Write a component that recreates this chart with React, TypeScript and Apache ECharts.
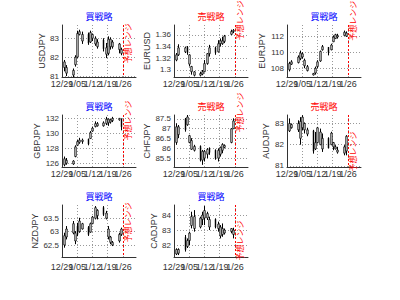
import React, { useEffect, useRef } from "react";
import * as echarts from "echarts";

// ---- data ----
const tradeDates = [
  "2010-12-30", "2010-12-31",
  "2011-01-03", "2011-01-04", "2011-01-05", "2011-01-06", "2011-01-07",
  "2011-01-10", "2011-01-11", "2011-01-12", "2011-01-13", "2011-01-14",
  "2011-01-17", "2011-01-18", "2011-01-19", "2011-01-20", "2011-01-21",
  "2011-01-24", "2011-01-25",
];
const tickDates = ["2010-12-29", "2011-01-05", "2011-01-12", "2011-01-19", "2011-01-26"];
const tickLabels = ["12/29", "1/05", "1/12", "1/19", "1/26"];
const forecastDate = "2011-01-26";
const axisStartDate = "2010-12-29";
const axisEndDate = "2011-02-01";

const pairNames = ["USDJPY", "EURUSD", "EURJPY", "GBPJPY", "CHFJPY", "AUDJPY", "NZDJPY", "CADJPY"];
const strategies = ["買戦略", "売戦略", "買戦略", "買戦略", "売戦略", "売戦略", "買戦略", "買戦略"];
const forecastText = "予想レンジ";

// [open, close, low, high]
const usdjpy = [
  [81.45, 81.75, 81.25, 81.85], [81.15, 81.45, 81.0, 81.58],
  [81.05, 81.3, 80.95, 81.4], [81.6, 82.0, 81.5, 82.1], [82.0, 83.25, 81.95, 83.4], [83.2, 83.35, 83.15, 83.45], [82.85, 83.2, 82.7, 83.35],
  [83.2, 82.75, 82.65, 83.3], [82.8, 83.3, 82.75, 83.4], [83.0, 83.2, 82.85, 83.25], [82.7, 83.0, 82.6, 83.1], [82.55, 82.8, 82.45, 82.95],
  [82.9, 82.45, 82.3, 83.0], [82.15, 82.5, 81.95, 82.75], [82.2, 82.95, 82.1, 83.1], [82.55, 82.95, 82.4, 83.05], [82.55, 82.8, 82.45, 82.9],
  [82.4, 82.7, 82.2, 82.75], [82.2, 82.4, 82.1, 82.5],
];
const eurusd = [
  [1.317, 1.326, 1.315, 1.329], [1.326, 1.338, 1.324, 1.344],
  [1.331, 1.338, 1.329, 1.34], [1.339, 1.33, 1.326, 1.341], [1.31, 1.326, 1.306, 1.327], [1.297, 1.306, 1.292, 1.307], [1.291, 1.297, 1.289, 1.298],
  [1.291, 1.294, 1.289, 1.297], [1.293, 1.297, 1.291, 1.3], [1.297, 1.311, 1.296, 1.317], [1.311, 1.328, 1.309, 1.329], [1.328, 1.338, 1.323, 1.343],
  [1.338, 1.33, 1.326, 1.34], [1.331, 1.345, 1.33, 1.351], [1.345, 1.35, 1.34, 1.354], [1.345, 1.35, 1.343, 1.357], [1.349, 1.358, 1.346, 1.36],
  [1.361, 1.366, 1.36, 1.369], [1.366, 1.368, 1.363, 1.37],
];
const eurjpy = [
  [107.8, 108.6, 107.6, 108.8], [108.5, 108.8, 108.4, 109.0],
  [108.7, 109.4, 108.6, 109.6], [109.2, 109.9, 109.0, 110.2], [109.4, 109.8, 109.2, 110.0], [108.3, 109.0, 108.0, 109.2], [107.7, 108.2, 107.6, 108.4],
  [107.15, 107.35, 107.1, 107.4], [107.4, 108.0, 107.2, 108.2], [108.2, 108.8, 108.0, 109.0], [108.9, 110.1, 108.8, 110.2], [110.3, 110.7, 110.2, 110.9],
  [110.6, 110.0, 109.6, 110.65], [110.3, 110.9, 110.24, 111.06], [111.3, 111.9, 111.27, 112.1], [111.7, 112.2, 111.67, 112.3], [111.9, 112.1, 111.7, 112.3],
  [112.1, 112.5, 112.08, 112.7], [112.0, 112.4, 111.9, 112.6],
];
const gbpjpy = [
  [125.8, 126.6, 125.6, 126.9], [126.0, 126.4, 125.8, 126.7],
  [125.9, 126.3, 125.8, 126.4], [126.9, 128.2, 126.8, 128.4], [128.4, 128.9, 128.3, 129.1], [128.8, 129.1, 128.6, 129.4], [128.9, 129.1, 128.6, 129.3],
  [129.2, 128.6, 128.4, 129.3], [129.3, 130.1, 129.3, 130.3], [130.3, 130.7, 130.2, 130.9], [130.9, 131.3, 130.8, 131.6], [131.0, 131.3, 130.9, 131.5],
  [131.0, 131.4, 130.9, 131.6], [131.3, 131.9, 131.1, 132.2], [131.4, 131.9, 131.0, 132.0], [131.5, 131.8, 131.3, 131.9], [131.7, 132.0, 131.5, 132.2],
  [131.8, 132.0, 131.7, 132.0], [131.9, 130.9, 130.4, 132.0],
];
const chfjpy = [
  [86.3, 87.1, 86.18, 87.28], [86.7, 87.1, 86.52, 87.19],
  [87.5, 86.95, 86.85, 87.55], [87.2, 87.6, 87.15, 87.7], [86.3, 86.65, 86.26, 86.69], [85.95, 86.4, 85.92, 86.52], [85.9, 86.1, 85.84, 86.18],
  [86.1, 85.4, 85.33, 86.15], [85.4, 85.85, 85.16, 85.92], [85.5, 85.85, 85.33, 85.92], [85.7, 85.95, 85.5, 86.01], [86.0, 85.8, 85.67, 86.05],
  [85.9, 85.5, 85.42, 85.95], [85.5, 85.9, 85.33, 86.0], [85.7, 86.05, 85.58, 86.09], [85.9, 86.2, 85.75, 86.26], [86.05, 86.15, 86.0, 86.2],
  [86.3, 87.0, 86.26, 87.03], [87.0, 87.4, 87.0, 87.53],
];
const audjpy = [
  [82.65, 83.0, 82.6, 83.24], [82.8, 82.95, 82.76, 83.0],
  [82.7, 83.0, 82.6, 83.15], [82.3, 83.1, 82.0, 83.3], [82.8, 83.3, 82.69, 83.39], [82.7, 83.0, 82.53, 83.05], [82.5, 82.7, 82.4, 82.8],
  [82.65, 81.7, 81.58, 82.7], [81.8, 82.1, 81.75, 82.6], [82.1, 82.8, 82.06, 82.84], [82.0, 82.6, 81.98, 82.76], [81.8, 82.3, 81.66, 82.53],
  [82.3, 81.85, 81.82, 82.35], [82.0, 82.55, 81.98, 82.61], [81.9, 82.1, 81.74, 82.13], [81.8, 81.9, 81.78, 81.98], [81.65, 81.75, 81.58, 81.9],
  [81.6, 81.9, 81.5, 81.98], [81.7, 82.4, 81.5, 82.45],
];
const nzdjpy = [
  [62.5, 62.85, 62.4, 62.96], [62.8, 63.1, 62.71, 63.21],
  [62.95, 63.3, 62.9, 63.4], [62.65, 62.95, 62.53, 63.02], [63.2, 62.9, 62.83, 63.33], [63.0, 63.4, 62.96, 63.52], [63.1, 63.3, 63.08, 63.33],
  [63.15, 62.9, 62.84, 63.21], [62.98, 63.3, 62.96, 63.34], [63.3, 63.55, 63.28, 63.59], [63.5, 63.9, 63.46, 63.96], [63.6, 63.8, 63.46, 63.84],
  [63.9, 63.65, 63.59, 63.96], [63.5, 63.7, 63.46, 63.78], [62.8, 63.1, 62.71, 63.21], [62.6, 62.8, 62.53, 62.84], [62.5, 62.6, 62.46, 62.65],
  [62.65, 62.9, 62.59, 62.96], [62.9, 63.1, 62.84, 63.15],
];
const cadjpy = [
  [81.4, 81.7, 81.33, 81.78], [81.45, 81.7, 81.33, 81.78],
  [82.5, 81.7, 81.56, 82.67], [81.9, 82.3, 81.8, 82.44], [82.3, 82.8, 82.0, 82.89], [83.3, 83.9, 83.11, 84.22], [83.1, 83.9, 82.89, 84.33],
  [83.2, 83.8, 83.11, 83.89], [83.7, 84.0, 83.33, 84.22], [83.8, 84.3, 83.33, 84.6], [83.8, 84.1, 83.67, 84.22], [83.2, 83.7, 83.0, 83.89],
  [83.7, 83.2, 83.11, 83.78], [83.1, 83.4, 82.89, 83.56], [82.6, 83.2, 82.44, 83.33], [82.7, 83.1, 82.55, 83.44], [82.8, 83.0, 82.7, 83.1],
  [82.9, 83.1, 82.78, 83.11], [82.7, 83.0, 82.44, 83.15],
];
const pairData = [usdjpy, eurusd, eurjpy, gbpjpy, chfjpy, audjpy, nzdjpy, cadjpy];

// centre of the forecast-range label, in price units
const forecastMid = [82.74, 1.385, 113.94, 131.7, 87.83, 81.68, 63.35, 82.3];

const yTicks = [
  [81, 82, 83],
  [1.3, 1.32, 1.34, 1.36],
  [108, 110, 112],
  [126, 128, 130, 132],
  [85.5, 86, 86.5, 87, 87.5],
  [81, 82, 83],
  [62.5, 63, 63.5],
  [82, 83, 84],
];
const yRanges = [
  [80.95, 83.7],
  [1.288, 1.377],
  [106.9, 113.4],
  [125.5, 132.45],
  [85.05, 87.7],
  [80.95, 83.4],
  [62.05, 64.0],
  [81.2, 84.67],
];

// ---- layout ----
const colLeft = [62, 174, 287];
const rowTop = [25, 115, 205];
const gridW = 74;
const gridH = 52;
const rowLabelMargin = [2, 2, 5];
const nameGaps = [15.5, 21, 19.5, 18.5, 19, 17, 18, 16];
const FONT = "'Liberation Sans', 'Noto Sans CJK JP', sans-serif";

const dayOf = (s: string) => {
  const [y, m, d] = s.split("-").map(Number);
  const [y0, m0, d0] = axisStartDate.split("-").map(Number);
  return (Date.UTC(y, m - 1, d) - Date.UTC(y0, m0 - 1, d0)) / 86400000;
};

export default function App() {
  const ref = useRef<HTMLDivElement>(null);
  useEffect(() => {
    if (!ref.current) return;
    const chart = echarts.init(ref.current, undefined, { renderer: "svg" });
    const tickDays = tickDates.map(dayOf);
    const grids: any[] = [];
    const xAxes: any[] = [];
    const yAxes: any[] = [];
    const series: any[] = [];
    const graphics: any[] = [];
    pairNames.forEach((name, i) => {
      const left = colLeft[i % 3];
      const row = Math.floor(i / 3);
      const top = rowTop[row];
      grids.push({ left, top, width: gridW, height: gridH });
      xAxes.push({
        type: "value",
        gridIndex: i,
        min: 0,
        max: dayOf(axisEndDate),
        axisLine: { show: true, onZero: false, lineStyle: { color: "#333", width: 1 } },
        axisTick: { show: false, customValues: tickDays },
        axisLabel: { show: false, customValues: tickDays },
        splitLine: { show: true, lineStyle: { color: "#999", type: [1, 2], width: 1 } },
      });
      yAxes.push({
        type: "value",
        gridIndex: i,
        min: yRanges[i][0],
        max: yRanges[i][1],
        name,
        nameLocation: "middle",
        nameGap: nameGaps[i],
        nameTextStyle: { fontSize: 9, color: "#333", fontFamily: FONT },
        axisLine: { show: true, lineStyle: { color: "#333", width: 1 } },
        axisTick: { show: false, customValues: yTicks[i] },
        axisLabel: {
          customValues: yTicks[i],
          fontSize: 8,
          color: "#333",
          margin: 3,
          fontFamily: FONT,
          showMinLabel: true,
          showMaxLabel: true,
          hideOverlap: false,
        },
        splitLine: { show: true, lineStyle: { color: "#999", type: [1, 2], width: 1 } },
      });
      const rows = pairData[i].map((d, k) => [dayOf(tradeDates[k]), d[0], d[1], d[2], d[3]]);
      series.push({
        type: "custom",
        xAxisIndex: i,
        yAxisIndex: i,
        encode: { x: 0, y: [1, 2, 3, 4] },
        data: rows,
        renderItem: (params: any, api: any) => {
          const x = api.value(0);
          const o = api.value(1);
          const c = api.value(2);
          const l = api.value(3);
          const h = api.value(4);
          const pO = api.coord([x, o]);
          const pC = api.coord([x, c]);
          const pL = api.coord([x, l]);
          const pH = api.coord([x, h]);
          const up = c >= o;
          const px = Math.round(pO[0]) + 0.5;
          const yTop = Math.min(pO[1], pC[1]);
          const bh = Math.max(Math.abs(pO[1] - pC[1]), 1);
          const wick = {
            type: "line",
            shape: { x1: px, y1: pH[1], x2: px, y2: pL[1] },
            style: { stroke: "#000", lineWidth: 1 },
          };
          const body = {
            type: "rect",
            shape: { x: px - 0.75, y: yTop, width: 1.5, height: bh },
            style: { fill: up ? "#fff" : "#c8c8c8", stroke: up ? "#000" : "#a8a8a8", lineWidth: 0.8 },
          };
          return { type: "group", children: up ? [wick, body] : [body, wick] };
        },
      });
      // x tick labels (all shown, overlapping as in the original)
      series.push({
        type: "custom",
        xAxisIndex: i,
        yAxisIndex: i,
        clip: false,
        silent: true,
        encode: { x: 0 },
        data: tickDays.map((d, k) => [d, k]),
        renderItem: (params: any, api: any) => {
          const p = api.coord([api.value(0), yRanges[i][0]]);
          const cs = params.coordSys;
          return {
            type: "text",
            x: p[0],
            y: cs.y + cs.height + rowLabelMargin[row],
            style: {
              text: tickLabels[api.value(1)],
              fill: "#333",
              font: `9px ${FONT}`,
              align: "center",
              verticalAlign: "top",
            },
          };
        },
      });
      series.push({
        type: "custom",
        xAxisIndex: i,
        yAxisIndex: i,
        clip: false,
        encode: { x: 0, y: 1 },
        data: [[dayOf(forecastDate), forecastMid[i]]],
        renderItem: (params: any, api: any) => {
          const p = api.coord([api.value(0), api.value(1)]);
          const cs = params.coordSys;
          const lx = Math.round(p[0]) + 0.5;
          return {
            type: "group",
            children: [
              {
                type: "line",
                shape: { x1: lx, y1: cs.y, x2: lx, y2: cs.y + cs.height },
                style: { stroke: "#ff0000", lineWidth: 1, lineDash: [2, 2] },
              },
              {
                type: "text",
                x: lx + 4.5,
                y: p[1],
                rotation: Math.PI / 2,
                style: {
                  text: forecastText,
                  fill: "#ff0000",
                  font: `8px ${FONT}`,
                  align: "center",
                  verticalAlign: "middle",
                },
              },
            ],
          };
        },
      });
      graphics.push({
        type: "text",
        x: left + gridW / 2,
        y: top - 8,
        style: {
          text: strategies[i],
          fill: strategies[i] === "買戦略" ? "#0000ff" : "#ff0000",
          font: `9px ${FONT}`,
          align: "center",
          verticalAlign: "middle",
        },
      });
    });
    chart.setOption({
      animation: false,
      grid: grids,
      xAxis: xAxes,
      yAxis: yAxes,
      series,
      graphic: graphics,
    });
    return () => chart.dispose();
  }, []);
  return (
    <div
      ref={ref}
      style={{ position: "absolute", left: 0, top: 0, width: 400, height: 300, background: "#fff" }}
    />
  );
}
